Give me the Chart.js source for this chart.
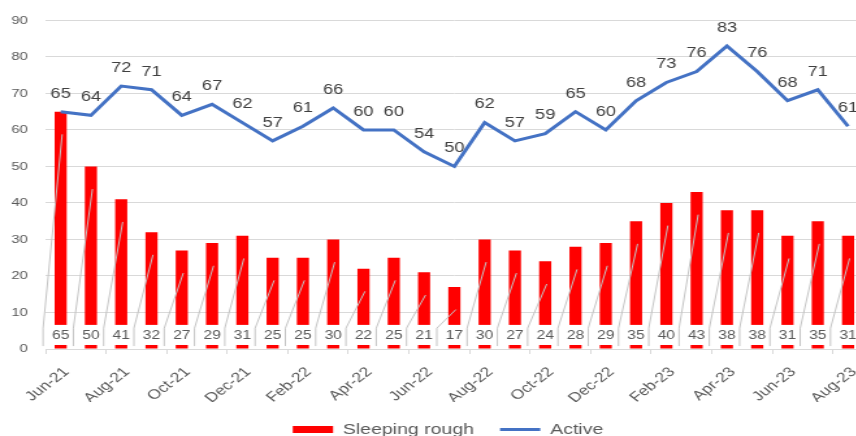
<!DOCTYPE html>
<html><head><meta charset="utf-8">
<script src="https://cdn.jsdelivr.net/npm/chart.js@4"></script>
<style>
html,body{margin:0;padding:0;overflow:hidden;background:#fff;width:856px;height:436px}
#wrap{position:absolute;left:0;top:0;width:680px;height:447px;transform:scaleX(1.3);transform-origin:0 0}
</style></head><body>
<div id="wrap"><canvas id="c" width="680" height="447"></canvas></div>
<script>
const categories = ['Jun-21','Jul-21','Aug-21','Sep-21','Oct-21','Nov-21','Dec-21','Jan-22','Feb-22','Mar-22','Apr-22','May-22','Jun-22','Jul-22','Aug-22','Sep-22','Oct-22','Nov-22','Dec-22','Jan-23','Feb-23','Mar-23','Apr-23','May-23','Jun-23','Jul-23','Aug-23'];
const sleepingRough = [65,50,41,32,27,29,31,25,25,30,22,25,21,17,30,27,24,28,29,35,40,43,38,38,31,35,31];
const active = [65,64,72,71,64,67,62,57,61,66,60,60,54,50,62,57,59,65,60,68,73,76,83,76,68,71,61];
const yMin = 0, yMax = 90, yStep = 10;

Chart.defaults.font.family = '"Liberation Sans", Arial, sans-serif';

const labelPlugin = {
  id: 'valueLabels',
  afterDatasetsDraw(chart) {
    const ctx = chart.ctx, ys = chart.scales.y, xs = chart.scales.x;
    const cw = xs.getPixelForValue(1) - xs.getPixelForValue(0);
    ctx.save();
    chart.getDatasetMeta(0).data.forEach((bar, i) => {
      const v = sleepingRough[i], x = bar.x;
      const top = ys.getPixelForValue(6.6), bot = ys.getPixelForValue(1.1);
      const lx = x - 0.58 * cw;
      ctx.fillStyle = '#ffffff';
      ctx.fillRect(lx, top, 0.98 * cw, bot - top);
      ctx.strokeStyle = '#c4c4c4';
      ctx.lineWidth = 1;
      ctx.beginPath();
      ctx.moveTo(lx, ys.getPixelForValue(0.8));
      ctx.lineTo(lx, ys.getPixelForValue(5.7));
      ctx.lineTo(x + 0.05 * cw, ys.getPixelForValue(v - 6.2));
      ctx.stroke();
      ctx.fillStyle = '#595959';
      ctx.font = '12px "Liberation Sans"';
      ctx.textAlign = 'center';
      ctx.textBaseline = 'middle';
      ctx.fillText(String(v), x, ys.getPixelForValue(3.6));
    });
    chart.getDatasetMeta(1).data.forEach((pt, i) => {
      ctx.fillStyle = '#404040';
      ctx.font = '14px "Liberation Sans"';
      ctx.textAlign = 'center';
      ctx.textBaseline = 'middle';
      ctx.fillText(String(active[i]), pt.x, pt.y - 18);
    });
    ctx.restore();
  }
};

const legendShift = {
  id: 'legendShift',
  afterLayout(chart) {
    const l = chart.legend;
    if (l) { l.left += 12.6; l.right += 12.6; }
  }
};

new Chart(document.getElementById('c'), {
  data: {
    labels: categories,
    datasets: [
      { type: 'bar', label: 'Sleeping rough', data: sleepingRough, backgroundColor: '#FF0000', borderWidth: 0, barPercentage: 0.4, categoryPercentage: 1, order: 2 },
      { type: 'line', label: 'Active', data: active, borderColor: '#4472C4', backgroundColor: '#4472C4', borderWidth: 3, pointRadius: 0, tension: 0, order: 1 }
    ]
  },
  options: {
    responsive: false,
    animation: false,
    layout: { padding: { top: 19, right: 16, left: 0, bottom: 0 } },
    plugins: {
      tooltip: { enabled: false },
      legend: {
        position: 'bottom',
        labels: {
          usePointStyle: true, pointStyleWidth: 31, boxHeight: 7, padding: 20,
          color: '#595959', font: { size: 15 },
          generateLabels(chart) {
            return chart.data.datasets.map((ds, i) => ({
              text: ds.label, datasetIndex: i, hidden: false,
              fillStyle: ds.type === 'line' ? ds.borderColor : ds.backgroundColor,
              strokeStyle: ds.type === 'line' ? ds.borderColor : ds.backgroundColor,
              lineWidth: ds.type === 'line' ? 3 : 0,
              pointStyle: ds.type === 'line' ? 'line' : 'rect',
              fontColor: '#595959'
            }));
          }
        }
      }
    },
    scales: {
      x: {
        offset: true,
        grid: { offset: true, drawOnChartArea: false, drawTicks: true, tickLength: 5,
          color: c => (c.index % 2 === 0 ? '#d9d9d9' : 'rgba(0,0,0,0)') },
        border: { display: true, color: '#d9d9d9' },
        ticks: { autoSkip: false, maxRotation: 45, minRotation: 45, color: '#595959', font: { size: 13.5 }, padding: 10, labelOffset: 4.5,
          callback: (v, i) => (i % 2 === 0 ? categories[i] : '') },
        afterFit(s) { s.height = 53; }
      },
      y: {
        min: yMin, max: yMax,
        ticks: { stepSize: yStep, color: '#595959', font: { size: 11.5 }, padding: 13.5 },
        grid: { color: '#d9d9d9', drawTicks: false },
        border: { display: false },
        afterFit(s) { s.width = 35; }
      }
    }
  },
  plugins: [labelPlugin, legendShift]
});
</script>
</body></html>
